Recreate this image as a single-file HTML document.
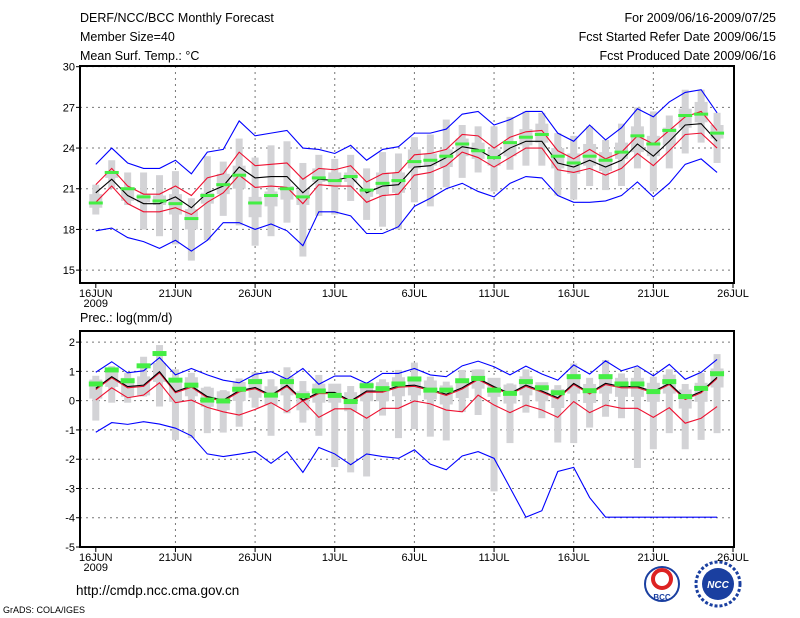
<!DOCTYPE html>
<html><head><meta charset="utf-8"><style>
body{margin:0;background:#fff;}
svg{display:block;font-family:"Liberation Sans",sans-serif;}
</style></head><body>
<svg id="chart" width="800" height="618" viewBox="0 0 800 618">
<g font-size="12.5" fill="#000">
<text x="80" y="22">DERF/NCC/BCC Monthly Forecast</text>
<text x="80" y="41">Member Size=40</text>
<text x="80" y="60">Mean Surf. Temp.: °C</text>
<text x="776" y="22" text-anchor="end">For 2009/06/16-2009/07/25</text>
<text x="776" y="41" text-anchor="end">Fcst Started Refer Date 2009/06/15</text>
<text x="776" y="60" text-anchor="end">Fcst Produced Date 2009/06/16</text>
<text x="80" y="322">Prec.: log(mm/d)</text>
<text x="76" y="595" font-size="13.5">http://cmdp.ncc.cma.gov.cn</text>
<text x="3" y="613" font-size="9">GrADS: COLA/IGES</text>
</g>
<g>
<circle cx="662" cy="584" r="17" fill="#fff" stroke="#1a3fa0" stroke-width="2"/>
<circle cx="662" cy="579" r="9" fill="none" stroke="#d22" stroke-width="4"/>
<text x="662" y="600" font-size="8" text-anchor="middle" fill="#1a3fa0" font-weight="bold">BCC</text>
</g>
<g>
<circle cx="718" cy="584" r="22" fill="#fff" stroke="#1a3fa0" stroke-width="3" stroke-dasharray="3 2"/>
<circle cx="718" cy="584" r="16" fill="#1a3fa0"/>
<text x="718" y="588" font-size="10" text-anchor="middle" fill="#fff" font-weight="bold" font-style="italic">NCC</text>
</g>
<g id="top"></g>
<g id="bot"></g>
</svg>
<script>
// ---- Temperature data (40 days, 16JUN..25JUL) ----
const tBlueMax=[22.8,24.0,22.9,22.5,22.5,23.1,22.1,23.7,23.9,26.0,24.9,25.1,25.3,24.0,23.9,23.6,24.2,23.1,23.9,24.1,25.1,25.1,25.4,26.5,26.7,25.7,26.1,26.7,26.7,25.1,24.5,25.7,24.6,25.5,26.9,26.3,27.4,28.1,28.3,26.6];
const tRedUp=[21.3,22.5,21.2,20.6,20.6,21.2,20.5,21.8,22.1,23.7,22.7,22.8,22.9,21.7,22.5,22.4,22.7,21.5,22.1,22.2,23.5,23.6,23.9,25.0,24.9,24.0,24.8,25.2,25.3,23.8,23.2,23.9,23.2,23.7,24.9,24.3,25.3,26.3,26.7,25.3];
const tMean=[20.7,21.7,20.5,19.9,19.9,20.4,19.6,20.7,21.2,22.6,21.8,21.9,21.9,20.7,21.7,21.6,21.9,20.7,21.2,21.3,22.6,22.7,23.3,24.1,23.9,23.2,24.0,24.5,24.5,22.9,22.6,23.1,22.6,23.1,24.3,23.4,24.5,25.7,25.8,24.5];
const tRedLo=[20.0,21.2,19.9,19.3,19.3,19.6,19.1,20.0,20.7,22.0,21.1,21.2,21.1,19.9,21.3,21.2,21.2,20.0,20.5,20.6,22.0,22.2,22.7,23.7,23.3,22.6,23.3,24.0,24.0,22.4,22.2,22.5,22.0,22.5,23.6,22.7,23.8,25.0,25.1,24.0];
const tBlueMin=[17.9,18.1,17.4,17.1,16.6,17.2,16.4,17.2,18.5,18.5,18.0,18.4,17.9,16.8,19.3,19.3,19.0,17.7,17.7,18.2,19.7,20.3,21.0,21.4,20.8,20.4,21.4,21.9,21.8,20.5,20.0,20.0,20.1,20.5,21.5,20.4,21.4,22.8,23.2,22.2];
const tObs=[19.95,22.2,21.0,20.4,20.1,19.9,18.8,20.5,21.3,22.0,19.95,20.5,21.0,20.4,21.8,21.6,21.9,20.9,21.4,21.6,23.0,23.1,23.4,24.3,23.8,23.3,24.4,24.8,25.0,23.4,22.9,23.4,23.1,23.7,24.9,24.3,25.3,26.4,26.5,25.1];
const tWhHi=[21.3,23.1,22.2,22.2,22.0,22.3,20.3,23.4,23.0,24.7,23.3,24.2,24.5,22.9,23.5,23.2,23.5,22.5,23.7,23.6,24.8,25.0,26.1,25.7,25.6,25.6,26.3,26.7,26.6,25.1,24.9,25.6,24.6,25.8,27.0,26.7,26.4,28.3,28.3,26.6];
const tWhLo=[19.1,21.0,19.8,18.0,17.5,16.9,15.7,17.2,19.0,18.3,16.8,17.5,18.5,16.0,19.0,19.1,20.1,18.7,18.2,18.0,20.0,19.7,21.1,21.8,22.2,20.8,22.4,22.7,22.7,20.5,20.2,21.2,20.9,21.2,22.5,20.8,22.5,23.6,24.4,22.9];
const tBoxHi=[20.6,22.3,21.1,20.6,20.5,20.6,19.5,20.7,22.1,22.7,20.4,20.8,21.2,20.9,22.5,22.2,22.2,21.0,22.2,22.2,23.9,23.6,23.9,24.7,24.4,23.9,24.5,25.4,25.8,24.0,23.6,24.3,23.7,24.4,25.6,24.9,25.5,26.9,27.4,25.7];
const tBoxLo=[19.6,21.8,20.1,20.0,19.8,19.1,18.0,19.9,20.6,21.0,18.9,19.7,20.2,19.8,21.5,21.2,21.5,20.4,20.6,20.7,22.5,22.7,22.6,23.4,23.2,22.7,23.4,24.2,24.4,22.5,22.1,22.7,22.3,23.2,23.7,23.4,24.2,25.5,25.9,24.7];
const tTicks=[15,18,21,24,27,30];
// ---- Precipitation data ----
const pBlueMax=[0.97,1.33,0.95,1.02,1.47,0.88,1.10,0.88,0.70,0.61,0.90,0.99,0.73,1.10,0.56,0.84,0.84,0.59,0.93,0.93,1.10,0.88,0.82,1.19,1.35,1.16,0.88,1.18,0.91,0.70,1.22,0.91,1.36,1.02,1.19,0.85,1.24,0.73,0.97,1.41];
const pRedUp=[0.38,0.78,0.44,0.49,0.95,0.27,0.46,0.10,-0.02,0.30,0.41,0.15,0.49,-0.02,0.24,0.24,-0.05,0.29,0.29,0.46,0.49,0.35,0.18,0.40,0.72,0.44,0.21,0.49,0.29,0.06,0.55,0.23,0.55,0.44,0.44,0.27,0.55,0.04,0.27,0.76];
const pMean=[0.42,0.82,0.48,0.53,0.99,0.31,0.50,0.14,0.02,0.34,0.45,0.19,0.53,0.02,0.28,0.28,-0.01,0.33,0.33,0.50,0.53,0.39,0.22,0.44,0.76,0.48,0.25,0.53,0.33,0.10,0.59,0.27,0.59,0.48,0.48,0.31,0.59,0.08,0.31,0.80];
const pRedLo=[0.02,0.44,0.10,0.19,0.61,-0.07,0.02,-0.23,-0.38,-0.49,-0.30,-0.07,-0.38,0.00,-0.57,-0.28,-0.28,-0.60,-0.26,-0.26,-0.01,-0.11,-0.32,-0.38,0.19,-0.15,-0.41,-0.15,-0.32,-0.57,-0.03,-0.41,-0.15,-0.26,-0.26,-0.57,-0.24,-0.77,-0.60,-0.20];
const pBlueMin=[-1.08,-0.75,-0.81,-0.72,-0.80,-0.94,-1.20,-1.82,-1.91,-1.83,-1.74,-2.14,-1.74,-2.45,-1.60,-1.82,-2.19,-1.82,-1.91,-1.97,-1.68,-2.17,-2.36,-1.89,-1.74,-1.97,-2.97,-3.98,-3.76,-2.42,-2.28,-3.31,-3.98,-3.98,-3.98,-3.98,-3.98,-3.98,-3.98,-3.98];
const pObs=[0.57,1.05,0.68,1.19,1.61,0.70,0.53,0.02,-0.01,0.39,0.65,0.19,0.65,0.17,0.33,0.18,-0.03,0.51,0.41,0.57,0.74,0.36,0.36,0.68,0.76,0.36,0.25,0.65,0.44,0.27,0.82,0.34,0.82,0.57,0.57,0.31,0.65,0.14,0.42,0.92];
const pWhHi=[0.85,1.18,0.95,1.5,1.9,1.07,0.95,0.48,0.36,0.76,0.98,0.73,1.14,0.67,0.88,0.53,0.5,0.44,0.73,1.05,1.3,0.82,0.65,1.05,1.07,0.73,0.59,1.07,0.59,0.53,1.27,0.78,1.39,0.93,1.14,0.82,1.07,0.57,0.95,1.59];
const pWhLo=[-0.68,-0.07,-0.07,0.14,-0.2,-1.34,-1.28,-1.11,-1.09,-0.89,-0.24,-1.2,-0.43,-0.75,-1.2,-2.27,-2.45,-2.59,-0.51,-1.28,-0.97,-1.23,-1.36,-0.39,-0.49,-3.1,-1.45,-0.41,-0.6,-1.43,-1.45,-0.92,-0.55,-0.6,-2.3,-1.66,-1.11,-1.66,-1.34,-1.11];
const pBoxHi=[0.72,1.12,0.78,0.83,1.29,0.61,0.80,0.44,0.32,0.64,0.75,0.49,0.83,0.32,0.58,0.58,0.29,0.63,0.63,0.80,0.83,0.69,0.52,0.74,1.06,0.78,0.55,0.83,0.63,0.40,0.89,0.57,0.89,0.78,0.78,0.61,0.89,0.38,0.61,1.10];
const pBoxLo=[0.07,0.47,0.13,0.18,0.64,-0.04,0.15,-0.21,-0.33,-0.01,0.10,-0.16,0.18,-0.33,-0.07,-0.07,-0.36,-0.02,-0.02,0.15,0.18,0.04,-0.13,0.09,0.41,0.13,-0.10,0.18,-0.02,-0.25,0.24,-0.08,0.24,0.13,0.13,-0.04,0.24,-0.27,-0.04,0.45];
const pTicks=[-5,-4,-3,-2,-1,0,1,2];
const xTickDays=[0,5,10,15,20,25,30,35,40];
const xTickLabels=["16JUN","21JUN","26JUN","1JUL","6JUL","11JUL","16JUL","21JUL","26JUL"];

const NS="http://www.w3.org/2000/svg";
function mk(parent,tag,attrs){const e=document.createElementNS(NS,tag);for(const k in attrs)e.setAttribute(k,attrs[k]);parent.appendChild(e);return e;}
const X0=80,X1=734;
const xs=d=>95.8+d*15.93;

function panel(g,top,bottom,vmin,vmax,ticks,d,opt){
  const ys=v=>bottom-(v-vmin)/(vmax-vmin)*(bottom-top);
  // grid
  ticks.forEach(t=>{
    if(t>vmin&&t<vmax){const l=mk(g,'line',{x1:X0,x2:X1,y1:ys(t),y2:ys(t),stroke:'#777','stroke-dasharray':'2 4','stroke-width':1});
    }
    const tx=mk(g,'text',{x:75,y:ys(t)+4,'text-anchor':'end','font-size':11});tx.textContent=t;
    
    mk(g,'line',{x1:X0-4,x2:X0,y1:ys(t),y2:ys(t),stroke:'#000'});
  });
  xTickDays.forEach((dd,i)=>{
    const x=xs(dd);
    if(dd>0&&dd<40){const l=mk(g,'line',{x1:x,x2:x,y1:top,y2:bottom,stroke:'#777','stroke-dasharray':'2 4'});
    }
    mk(g,'line',{x1:x,x2:x,y1:bottom,y2:bottom+5,stroke:'#000'});
    const tx=mk(g,'text',{x:x,y:bottom+14,'text-anchor':'middle','font-size':11});tx.textContent=xTickLabels[i];
    
  });
  const yr=mk(g,'text',{x:xs(0),y:bottom+24,'text-anchor':'middle','font-size':11});yr.textContent='2009';
  
  // grey boxes
  for(let i=0;i<40;i++){
    const x=xs(i);
    const w=mk(g,'rect',{x:x-3.5,y:ys(d.whHi[i]),width:7,height:ys(d.whLo[i])-ys(d.whHi[i]),fill:'#d3d3d6'});
    
    const b=mk(g,'rect',{x:x-6.5,y:ys(d.boxHi[i]),width:13,height:ys(d.boxLo[i])-ys(d.boxHi[i]),fill:'#d3d3d6'});
    
  }
  const line=(arr,col,name)=>{
    const p=mk(g,'polyline',{points:arr.map((v,i)=>xs(i)+','+ys(v)).join(' '),fill:'none',stroke:col,'stroke-width':1.1});
    
  };
  line(d.bMin,'#0000ff','min-line');line(d.bMax,'#0000ff','max-line');
  line(d.rLo,'#ee1030','lower-line');line(d.rUp,'#ee1030','upper-line');
  line(d.mean,'#000','mean-line');
  for(let i=0;i<40;i++){
    const o=mk(g,'rect',{x:xs(i)-7,y:ys(d.obs[i])-opt.gh/2,width:14,height:opt.gh,fill:'#44ee44'});
    
  }
  const f=mk(g,'rect',{x:X0,y:top,width:X1-X0,height:bottom-top,fill:'none',stroke:'#000','stroke-width':2});
  
}
panel(document.getElementById('top'),66,283,14.05,30.05,tTicks,
 {whHi:tWhHi,whLo:tWhLo,boxHi:tBoxHi,boxLo:tBoxLo,bMax:tBlueMax,rUp:tRedUp,mean:tMean,rLo:tRedLo,bMin:tBlueMin,obs:tObs},{gh:3});
panel(document.getElementById('bot'),331,547,-5,2.38,pTicks,
 {whHi:pWhHi,whLo:pWhLo,boxHi:pBoxHi,boxLo:pBoxLo,bMax:pBlueMax,rUp:pRedUp,mean:pMean,rLo:pRedLo,bMin:pBlueMin,obs:pObs},{gh:5});
</script>
</body></html>
